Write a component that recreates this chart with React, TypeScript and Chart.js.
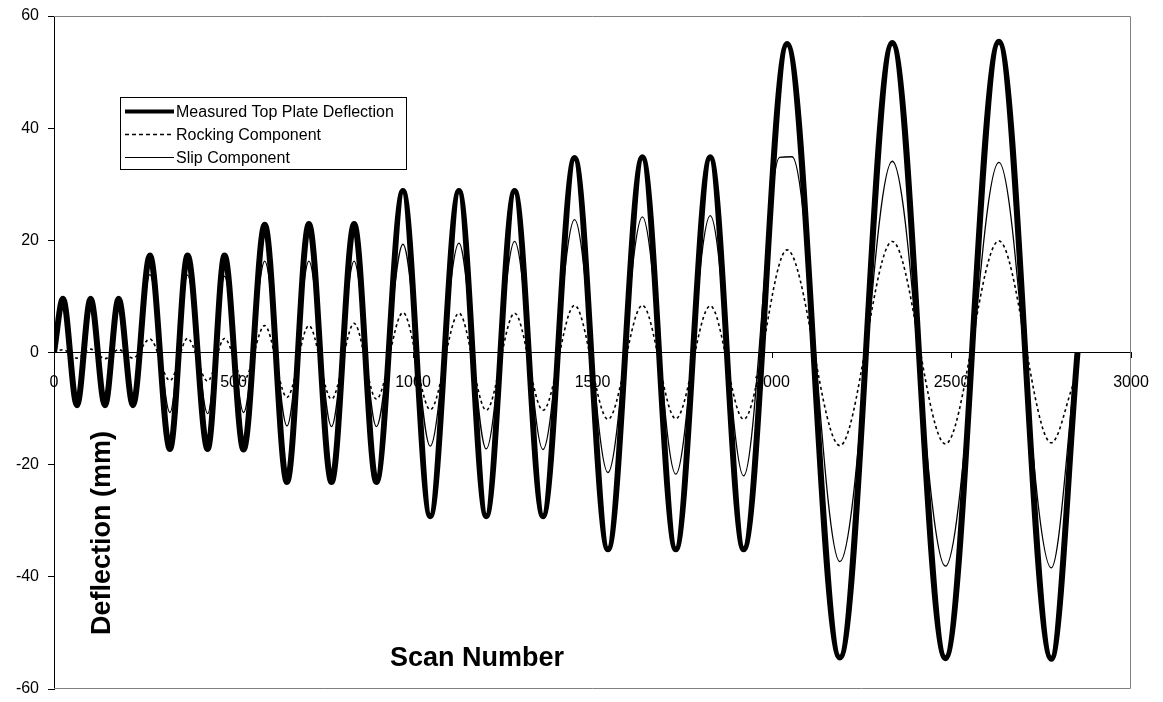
import React, { useEffect, useRef } from "react";
import { Chart, registerables } from "chart.js";

Chart.register(...registerables);

const FONT = '"Liberation Sans", Arial, Helvetica, sans-serif';

// Axis ticks
const xTicks = [0, 500, 1000, 1500, 2000, 2500, 3000];
const yTicks = [-60, -40, -20, 0, 20, 40, 60];

const seriesNames = ["Measured Top Plate Deflection", "Rocking Component", "Slip Component"];
const xTitle = "Scan Number";
const yTitle = "Deflection (mm)";

// Turning points (peaks and troughs) of each trace: scan number and deflection in mm.
const measuredScans = [
  0, 25, 64, 102, 142, 180, 220,
  267, 323, 372, 428, 475, 528,
  587, 649, 710, 773, 836, 898,
  972, 1048, 1128, 1204, 1283, 1362,
  1450, 1543, 1639, 1732, 1828, 1921,
  2042, 2189, 2335, 2483, 2632, 2778, 2851,
];
const measuredDeflection = [
  0, 9.6, -9.4, 9.6, -9.4, 9.6, -9.4,
  17.3, -17.2, 17.3, -17.2, 17.3, -17.3,
  22.8, -23.1, 22.9, -23.1, 22.9, -23.1,
  28.8, -29.2, 28.8, -29.2, 28.8, -29.2,
  34.7, -35.1, 34.8, -35.1, 34.8, -35.1,
  55.0, -54.4, 55.2, -54.5, 55.4, -54.6, 0,
];

const rockingScans = [
  0, 25, 64, 102, 142, 180, 220,
  267, 323, 372, 428, 475, 528,
  587, 649, 710, 773, 836, 898,
  972, 1048, 1128, 1204, 1283, 1362,
  1450, 1543, 1639, 1732, 1828, 1921,
  2042, 2189, 2335, 2483, 2632, 2778, 2839,
];
const rockingDeflection = [
  0, 0.5, -1.0, 0.6, -1.1, 0.5, -1.0,
  2.4, -5.0, 2.5, -5.1, 2.5, -5.0,
  4.8, -8.0, 4.8, -8.3, 5.2, -8.3,
  7.1, -10.2, 7.0, -10.3, 7.0, -10.3,
  8.4, -11.9, 8.4, -11.8, 8.3, -11.9,
  18.3, -16.6, 19.8, -16.3, 19.9, -16.1, -5.7,
];

const slipScans = [
  0, 25, 64, 102, 142, 180, 220,
  267, 323, 372, 428, 475, 528,
  587, 649, 710, 773, 836, 898,
  972, 1048, 1128, 1204, 1283, 1362,
  1450, 1543, 1639, 1732, 1828, 1921,
  2021, 2056, 2189, 2335, 2483, 2632, 2778, 2845,
];
const slipDeflection = [
  0, 9.3, -9.0, 9.3, -9.0, 9.3, -9.0,
  13.9, -10.7, 13.8, -10.9, 13.6, -10.7,
  16.3, -13.1, 16.3, -13.2, 16.3, -13.2,
  19.3, -16.7, 19.5, -17.2, 19.8, -17.3,
  23.7, -21.4, 24.2, -21.7, 24.4, -22.0,
  34.8, 34.9, -37.3, 34.1, -38.1, 33.9, -38.4, -3,
];

function toPoints(xs: number[], ys: number[]) {
  return xs.map((x, i) => ({ x, y: ys[i] }));
}

// Plot frame, in-plot legend and axis titles
const decorations = {
  id: "decorations",
  beforeDatasetsDraw(chart: any) {
    const { ctx, chartArea: a } = chart;
    ctx.save();
    ctx.strokeStyle = "#808080";
    ctx.lineWidth = 1;
    ctx.beginPath();
    ctx.moveTo(a.left, a.top + 0.5);
    ctx.lineTo(a.right - 0.5, a.top + 0.5);
    ctx.lineTo(a.right - 0.5, a.bottom - 0.5);
    ctx.lineTo(a.left, a.bottom - 0.5);
    ctx.stroke();
    ctx.restore();
  },
  afterDraw(chart: any) {
    const { ctx } = chart;
    ctx.save();

    // legend box
    const bx = 120.5, by = 97.5, bw = 286, bh = 72;
    ctx.fillStyle = "#fff";
    ctx.fillRect(bx, by, bw, bh);
    ctx.strokeStyle = "#000";
    ctx.lineWidth = 1;
    ctx.strokeRect(bx, by, bw, bh);

    const rows = [111.5, 134.5, 157.5];
    const styles = [
      { w: 4, dash: [] as number[] },
      { w: 1.5, dash: [4, 3] },
      { w: 1.2, dash: [] as number[] },
    ];
    ctx.font = `16px ${FONT}`;
    ctx.textAlign = "left";
    ctx.textBaseline = "alphabetic";
    rows.forEach((cy, i) => {
      ctx.beginPath();
      ctx.setLineDash(styles[i].dash);
      ctx.lineWidth = styles[i].w;
      ctx.strokeStyle = "#000";
      ctx.moveTo(125, cy);
      ctx.lineTo(174, cy);
      ctx.stroke();
      ctx.setLineDash([]);
      ctx.fillStyle = "#000";
      ctx.fillText(seriesNames[i], 176, cy + 5.8);
    });

    // axis titles
    ctx.font = `bold 27px ${FONT}`;
    ctx.fillStyle = "#000";
    ctx.textAlign = "center";
    ctx.textBaseline = "alphabetic";
    ctx.fillText(xTitle, 477, 666);

    ctx.translate(110, 533);
    ctx.rotate(-Math.PI / 2);
    ctx.fillText(yTitle, 0, 0);

    ctx.restore();
  },
};

function clearScalePadding(s: any) {
  s.paddingLeft = 0;
  s.paddingRight = 0;
  s.paddingTop = 0;
  s.paddingBottom = 0;
}

export default function App() {
  const canvasRef = useRef<HTMLCanvasElement | null>(null);

  useEffect(() => {
    const canvas = canvasRef.current;
    if (!canvas) return;

    const chart = new Chart(canvas, {
      type: "line",
      data: {
        datasets: [
          {
            label: seriesNames[0],
            data: toPoints(measuredScans, measuredDeflection),
            borderColor: "#000",
            borderWidth: 6,
            pointRadius: 0,
            cubicInterpolationMode: "monotone",
            borderJoinStyle: "round",
            fill: false,
            order: 3,
          },
          {
            label: seriesNames[1],
            data: toPoints(rockingScans, rockingDeflection),
            borderColor: "#000",
            borderWidth: 1.6,
            borderDash: [3, 3],
            pointRadius: 0,
            cubicInterpolationMode: "monotone",
            fill: false,
            order: 2,
          },
          {
            label: seriesNames[2],
            data: toPoints(slipScans, slipDeflection),
            borderColor: "#000",
            borderWidth: 1.3,
            pointRadius: 0,
            cubicInterpolationMode: "monotone",
            fill: false,
            order: 1,
          },
        ],
      },
      options: {
        responsive: false,
        animation: false,
        devicePixelRatio: 1,
        layout: { padding: { top: 16, right: 32, bottom: 13, left: 0 } },
        plugins: {
          legend: { display: false },
          tooltip: { enabled: false },
          title: { display: false },
        },
        scales: {
          x: {
            type: "linear",
            min: 0,
            max: 3000,
            position: { y: 0 } as any,
            afterBuildTicks: (s: any) => {
              s.ticks = xTicks.map((v) => ({ value: v }));
            },
            afterFit: clearScalePadding,
            grid: { drawOnChartArea: false, drawTicks: true, tickLength: 5, color: "#000" },
            border: { display: true, color: "#000", width: 1 },
            ticks: {
              color: "#000",
              font: { size: 16, family: FONT },
              padding: 15,
              maxRotation: 0,
              autoSkip: false,
              callback: (v: any) => String(v),
            },
          },
          y: {
            type: "linear",
            min: -60,
            max: 60,
            position: "left",
            afterFit: (s: any) => {
              s.width = 54;
              clearScalePadding(s);
            },
            afterBuildTicks: (s: any) => {
              s.ticks = yTicks.map((v) => ({ value: v }));
            },
            grid: { drawOnChartArea: false, drawTicks: true, tickLength: 6, color: "#000" },
            border: { display: true, color: "#000", width: 1 },
            ticks: {
              color: "#000",
              font: { size: 16, family: FONT },
              padding: 9,
              callback: (v: any) => String(v),
            },
          },
        },
      },
      plugins: [decorations],
    } as any);

    return () => chart.destroy();
  }, []);

  return (
    <div style={{ position: "absolute", left: 0, top: 0, width: 1163, height: 702, background: "#fff" }}>
      <canvas ref={canvasRef} width={1163} height={702} style={{ display: "block" }} />
    </div>
  );
}
